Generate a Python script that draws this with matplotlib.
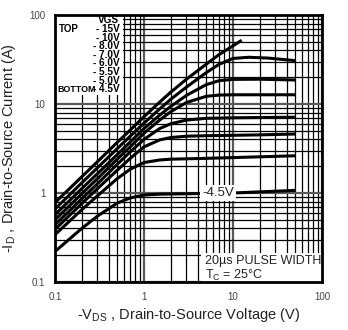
import numpy as np
import matplotlib
matplotlib.use("Agg")
import matplotlib.pyplot as plt

# -------------------------------------------------
# data (VDS in V, ID in A)
# -------------------------------------------------
vgs_labels = ["- 15V", "- 10V", "- 8.0V", "- 7.0V", "- 6.0V", "- 5.5V", "- 5.0V", "- 4.5V"]

vds_15 = [0.1, 0.2, 0.3, 0.5, 0.7, 1, 1.5, 2, 3, 5, 7, 10, 12.5]
id_15 = [0.78, 1.52, 2.25, 3.7, 5.1, 7.2, 10.5, 13.6, 19, 28, 36, 45, 52]

vds_10 = [0.1, 0.2, 0.3, 0.5, 0.7, 1, 1.5, 2, 3, 5, 7, 10, 15, 25, 50]
id_10 = [0.66, 1.3, 1.92, 3.15, 4.35, 6.1, 8.8, 11.3, 15.5, 22.5, 28, 32.5, 33.5, 32.8, 30.7]

vds_8 = [0.1, 0.2, 0.3, 0.5, 0.7, 1, 1.5, 2, 3, 5, 7, 10, 20, 50]
id_8 = [0.57, 1.12, 1.65, 2.7, 3.75, 5.3, 7.5, 9.4, 12.5, 16.5, 18.3, 18.9, 19.0, 18.6]

vds_7 = [0.1, 0.2, 0.3, 0.5, 0.7, 1, 1.5, 2, 3, 5, 7, 10, 20, 50]
id_7 = [0.5, 0.98, 1.45, 2.4, 3.3, 4.7, 6.6, 8.2, 10.4, 12.2, 12.6, 12.7, 12.7, 12.7]

vds_6 = [0.1, 0.2, 0.3, 0.5, 0.7, 1, 1.5, 2, 3, 5, 10, 20, 50]
id_6 = [0.44, 0.86, 1.27, 2.1, 2.9, 4.0, 5.3, 6.0, 6.6, 6.9, 7.0, 7.05, 7.1]

vds_55 = [0.1, 0.2, 0.3, 0.5, 0.7, 1, 1.5, 2, 3, 5, 10, 20, 50]
id_55 = [0.39, 0.76, 1.12, 1.8, 2.45, 3.3, 3.95, 4.2, 4.35, 4.4, 4.45, 4.5, 4.6]

vds_5 = [0.1, 0.2, 0.3, 0.5, 0.7, 1, 1.5, 2, 5, 10, 20, 50]
id_5 = [0.34, 0.65, 0.93, 1.45, 1.85, 2.2, 2.35, 2.4, 2.45, 2.5, 2.55, 2.62]

vds_45 = [0.1, 0.2, 0.3, 0.5, 0.7, 1, 1.5, 3, 10, 20, 50]
id_45 = [0.22, 0.40, 0.55, 0.77, 0.88, 0.95, 0.97, 0.98, 1.0, 1.03, 1.07]

curves = [(vds_15, id_15), (vds_10, id_10), (vds_8, id_8), (vds_7, id_7),
          (vds_6, id_6), (vds_55, id_55), (vds_5, id_5), (vds_45, id_45)]

# -------------------------------------------------
# figure
# -------------------------------------------------
plt.rcParams['font.family'] = ['Liberation Sans', 'DejaVu Sans']

fig = plt.figure(figsize=(3.48, 3.30), dpi=100)
ax = fig.add_axes([55/348, 48/330, 267/348, 267/330])

ax.set_xscale("log")
ax.set_yscale("log")
ax.set_xlim(0.1, 100)
ax.set_ylim(0.1, 100)

ax.set_axisbelow(True)
ax.grid(True, which="minor", color="black", lw=0.9)
ax.grid(True, which="major", color="0.35", lw=1.6)

for vx, iy in curves:
    ax.plot(vx, iy, color="black", lw=2.2, zorder=3, solid_capstyle="butt")

# white areas hiding the grid
ax.fill_between([0.1, 0.58], 12.6, 100, color="white", lw=0, zorder=1.5)
ax.fill_between([4.34, 100], 0.1, 0.212, color="white", lw=0, zorder=1.5)

for s in ax.spines.values():
    s.set_linewidth(2)
    s.set_zorder(5)

ax.tick_params(which="both", length=0, labelsize=7, colors="#444444", pad=7)
ax.set_xticks([0.1, 1, 10, 100])
ax.set_xticklabels(["0.1", "1", "10", "100"])
ax.set_yticks([0.1, 1, 10, 100])
ax.set_yticklabels(["0.1", "1", "10", "100"])

ax.set_xlabel("-V$_{\\mathregular{DS}}$ , Drain-to-Source Voltage (V)", fontsize=10.5, color="#222222", labelpad=3)
ax.set_ylabel("-I$_{\\mathregular{D}}$ , Drain-to-Source Current (A)", fontsize=10.5, color="#222222", labelpad=8)

# legend block (top left)
def fx(px):
    return (px - 55) / 267

def fy(py):
    return (282 - py) / 267

leg = dict(transform=ax.transAxes, va="center", fontweight="bold", zorder=6)
ax.text(fx(119), fy(20), "VGS", ha="right", fontsize=7.2, **leg)
ax.text(fx(59), fy(29), "TOP", ha="left", fontsize=7.0, **leg)
ax.text(fx(57), fy(89), "BOTTOM", ha="left", fontsize=6.4, **leg)
for i, lab in enumerate(vgs_labels):
    ax.text(fx(120), fy(29 + i * 8.6), lab, ha="right", fontsize=7.2, **leg)

ax.text(fx(218), fy(193), "-4.5V", transform=ax.transAxes, ha="center", va="center",
        fontsize=9.5, color="#222222", zorder=6,
        bbox=dict(facecolor="white", edgecolor="none", pad=1.5))

ax.text(fx(205), fy(261), "20\u00b5s PULSE WIDTH", transform=ax.transAxes, ha="left", va="center",
        fontsize=9, color="#222222", zorder=6)
ax.text(fx(205), fy(275), "T$_{\\mathregular{C}}$ = 25\u00b0C", transform=ax.transAxes, ha="left", va="center",
        fontsize=9, color="#222222", zorder=6)

fig.savefig("out.png", dpi=100)
